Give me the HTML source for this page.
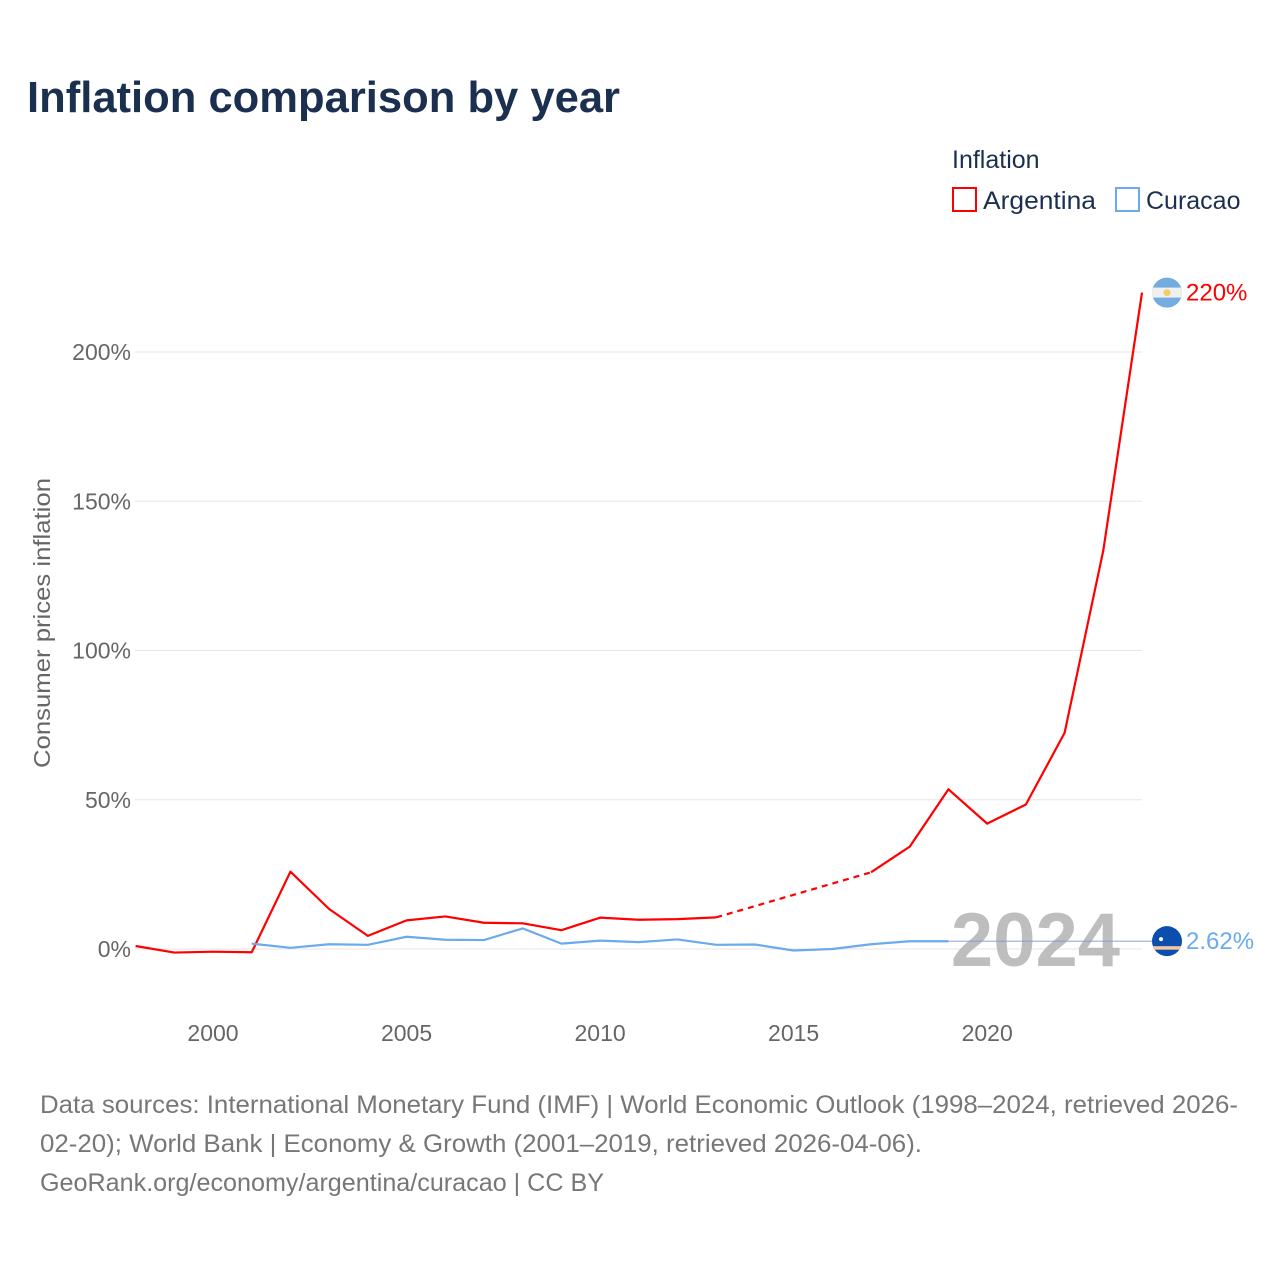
<!DOCTYPE html>
<html><head><meta charset="utf-8">
<style>
html,body{margin:0;padding:0;background:#fff;}
body{width:1280px;height:1280px;position:relative;overflow:hidden;font-family:"Liberation Sans",sans-serif;}
</style></head>
<body>
<svg id="chart" width="1280" height="1280" xmlns="http://www.w3.org/2000/svg" font-family="Liberation Sans, sans-serif">
  <text x="27" y="112" font-size="44" font-weight="bold" fill="#1b2f4f" textLength="593" lengthAdjust="spacingAndGlyphs">Inflation comparison by year</text>
  <text x="952" y="168" font-size="25" fill="#1b2f4f">Inflation</text>
  <g>
    <rect x="953" y="188" width="23" height="23" fill="none" stroke="#ff0000" stroke-width="2"/>
    <text x="983" y="209" font-size="25" fill="#1b2f4f" textLength="113" lengthAdjust="spacingAndGlyphs">Argentina</text>
  </g>
  <g>
    <rect x="1116" y="188" width="23" height="23" fill="none" stroke="#6aaaee" stroke-width="2"/>
    <text x="1146" y="209" font-size="25" fill="#1b2f4f">Curacao</text>
  </g>
  <text transform="translate(50,623) rotate(-90)" text-anchor="middle" font-size="23" fill="#666" textLength="290" lengthAdjust="spacingAndGlyphs">Consumer prices inflation</text>
  <g id="grid"></g>
  <g id="xticks"></g>
  <text x="1120" y="966" text-anchor="end" font-size="76" font-weight="bold" fill="#b8b8b8" opacity="0.9">2024</text>
  <g id="series"></g>
  <g id="endlabels"></g>
  <g font-size="25" fill="#777">
    <text x="40" y="1113" textLength="1198" lengthAdjust="spacingAndGlyphs">Data sources: International Monetary Fund (IMF) | World Economic Outlook (1998–2024, retrieved 2026-</text>
    <text x="40" y="1152" textLength="882" lengthAdjust="spacingAndGlyphs">02-20); World Bank | Economy &amp; Growth (2001–2019, retrieved 2026-04-06).</text>
    <text x="40" y="1191" textLength="564" lengthAdjust="spacingAndGlyphs">GeoRank.org/economy/argentina/curacao | CC BY</text>
  </g>
</svg>
<script>
const years = [1998,1999,2000,2001,2002,2003,2004,2005,2006,2007,2008,2009,2010,2011,2012,2013,2014,2015,2016,2017,2018,2019,2020,2021,2022,2023,2024];
const argentina = [1.0,-1.2,-0.9,-1.1,25.9,13.4,4.4,9.6,10.9,8.8,8.6,6.3,10.5,9.8,10.0,10.6,null,null,null,25.7,34.3,53.5,42.0,48.4,72.4,133.5,219.9];
const curacaoYears = [2001,2002,2003,2004,2005,2006,2007,2008,2009,2010,2011,2012,2013,2014,2015,2016,2017,2018,2019];
const curacao = [1.8,0.4,1.6,1.4,4.1,3.1,3.0,6.9,1.8,2.8,2.3,3.2,1.4,1.5,-0.5,0.0,1.6,2.6,2.6];
const curacaoLatest = 2.62;
const yTicks = [0,50,100,150,200];
const yTickLabels = ["0%","50%","100%","150%","200%"];
const xTicks = [2000,2005,2010,2015,2020];

const NS="http://www.w3.org/2000/svg";
const X0=135.6, XR=1142, Y0=949, Y200=352;
const x = y => X0 + (y-1998)*(XR-X0)/(2024-1998);
const yv = v => Y0 - v*(Y0-Y200)/200;
function mk(tag, attrs, parent){const e=document.createElementNS(NS,tag);for(const k in attrs)e.setAttribute(k,attrs[k]);parent.appendChild(e);return e;}

const grid=document.getElementById('grid');
yTicks.forEach((t,i)=>{
  const l=mk('line',{x1:135,x2:1142,y1:yv(t),y2:yv(t),stroke:'#e6e6e6','stroke-width':1},grid);
  
  
  const tx=mk('text',{x:131,y:yv(t)+8,'text-anchor':'end','font-size':23,fill:'#666'},grid);
  tx.textContent=yTickLabels[i];
  
  
});
const xt=document.getElementById('xticks');
xTicks.forEach(t=>{
  const tx=mk('text',{x:x(t),y:1041,'text-anchor':'middle','font-size':23,fill:'#666'},xt);
  tx.textContent=t;
  
  
});

const ser=document.getElementById('series');
let segs=[],cur=[],gaps=[],lastPt=null;
years.forEach((yr,i)=>{
  const v=argentina[i];
  if(v===null){ if(cur.length){segs.push(cur);cur=[];} return; }
  const p=[x(yr),yv(v)];
  if(cur.length===0 && lastPt && i>0 && argentina[i-1]===null) gaps.push([lastPt,p]);
  cur.push(p); lastPt=p;
});
if(cur.length)segs.push(cur);
segs.forEach(s=>{
  const pl=mk('polyline',{points:s.map(p=>p.join(',')).join(' '),fill:'none',stroke:'#ff0000','stroke-width':2.2,'stroke-linejoin':'round'},ser);
  
  
});
gaps.forEach(g=>{
  const l=mk('line',{x1:g[0][0],y1:g[0][1],x2:g[1][0],y2:g[1][1],stroke:'#ff0000','stroke-width':2.2,'stroke-dasharray':'6,5'},ser);
  
  
});
const lastCY=curacaoYears[curacaoYears.length-1];
const ext=mk('line',{x1:x(lastCY),y1:yv(curacaoLatest),x2:1152,y2:yv(curacaoLatest),stroke:'#7a9cc8','stroke-width':1.2,opacity:0.8},ser);


const cl=mk('polyline',{points:curacaoYears.map((yr,i)=>x(yr)+','+yv(curacao[i])).join(' '),fill:'none',stroke:'#6aaaee','stroke-width':2.2,'stroke-linejoin':'round'},ser);



const el=document.getElementById('endlabels');
const aLast=argentina[argentina.length-1];
const ay=yv(aLast);
const af=mk('g',{},el);


mk('clipPath',{id:'cA'},af).appendChild(document.createElementNS(NS,'circle'));
const cA=af.querySelector('clipPath circle');cA.setAttribute('cx',1167);cA.setAttribute('cy',ay);cA.setAttribute('r',15);
const ga=mk('g',{'clip-path':'url(#cA)'},af);
mk('rect',{x:1150,y:ay-16,width:34,height:32,fill:'#74acdf'},ga);
mk('rect',{x:1150,y:ay-5,width:34,height:10,fill:'#f0f0f0'},ga);
mk('circle',{cx:1167,cy:ay,r:3.5,fill:'#f6b40e',opacity:0.6},ga);
const at=mk('text',{x:1186,y:ay+8,'font-size':24,fill:'#ff0000'},el);
at.textContent=Math.round(aLast)+'%';



const cy=yv(curacaoLatest);
const cf=mk('g',{},el);


mk('clipPath',{id:'cC'},cf).appendChild(document.createElementNS(NS,'circle'));
const cC=cf.querySelector('clipPath circle');cC.setAttribute('cx',1167);cC.setAttribute('cy',cy);cC.setAttribute('r',15);
const gc=mk('g',{'clip-path':'url(#cC)'},cf);
mk('rect',{x:1150,y:cy-16,width:34,height:32,fill:'#0b4ead'},gc);
mk('rect',{x:1150,y:cy+5,width:34,height:3.5,fill:'#f9c5a0'},gc);
mk('circle',{cx:1161,cy:cy-2,r:2,fill:'#fff'},gc);
const ct=mk('text',{x:1186,y:cy+8,'font-size':24,fill:'#6aaaee'},el);
ct.textContent=curacaoLatest+'%';


</script>
</body></html>
